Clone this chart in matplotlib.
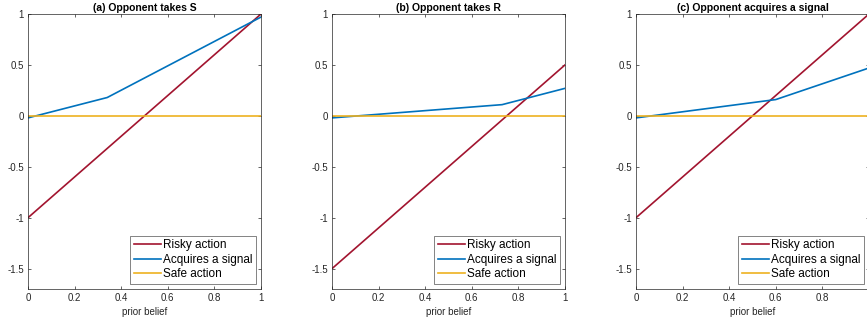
import matplotlib
matplotlib.use("Agg")
import matplotlib.pyplot as plt

belief_a = [0.0, 0.34, 1.0]
signal_a = [-0.02, 0.18, 0.97]
risky_a = [-1.0, 1.0]

belief_b = [0.0, 0.73, 1.0]
signal_b = [-0.02, 0.11, 0.27]
risky_b = [-1.5, 0.5]

belief_c = [0.0, 0.6, 1.0]
signal_c = [-0.02, 0.16, 0.47]
risky_c = [-1.0, 1.0]

ends = [0.0, 1.0]
safe = [0.0, 0.0]

titles = ["(a) Opponent takes S", "(b) Opponent takes R", "(c) Opponent acquires a signal"]
labels = ["Risky action", "Acquires a signal", "Safe action"]
xticks = [0, 0.2, 0.4, 0.6, 0.8, 1]
xticklabels = ["0", "0.2", "0.4", "0.6", "0.8", "1"]
yticks = [-1.5, -1, -0.5, 0, 0.5, 1]
yticklabels = ["-1.5", "-1", "-0.5", "0", "0.5", "1"]

RED = "#A2142F"
BLUE = "#0072BD"
YEL = "#EDB120"
AX = "#262626"

plt.rcParams['font.family'] = ['Liberation Sans', 'DejaVu Sans']

fig = plt.figure(figsize=(8.67, 3.22), dpi=100)
W, H = 867, 322
lefts = [28, 332, 636]
data = [(belief_a, signal_a, risky_a), (belief_b, signal_b, risky_b), (belief_c, signal_c, risky_c)]
for i, (bx, sy, ry) in enumerate(data):
    ax = fig.add_axes([lefts[i] / W, 1 - 289 / H, 233 / W, 275 / H])
    ax.plot(ends, ry, color=RED, lw=1.2, label=labels[0])
    ax.plot(bx, sy, color=BLUE, lw=1.2, label=labels[1])
    ax.plot(ends, safe, color=YEL, lw=1.2, label=labels[2])
    ax.set_xlim(0, 1)
    ax.set_ylim(-1.7, 1)
    ax.set_xticks(xticks)
    ax.set_xticklabels(xticklabels)
    ax.set_yticks(yticks)
    ax.set_yticklabels(yticklabels)
    ax.tick_params(direction='in', length=2.5, width=0.5, labelsize=7, colors=AX,
                   top=True, right=True, pad=3)
    for s in ax.spines.values():
        s.set_linewidth(0.5)
        s.set_color(AX)
    ax.set_xlabel("prior belief", fontsize=7, color=AX, labelpad=3)
    ax.set_title(titles[i], fontsize=7.5, fontweight='bold', color='black', pad=2)
    leg = ax.legend(loc='lower right', fontsize=8.5, frameon=True, fancybox=False,
                    borderaxespad=0.45, handlelength=2.3, handletextpad=0.15,
                    labelspacing=0.2, borderpad=0.3)
    leg.get_frame().set_edgecolor(AX)
    leg.get_frame().set_linewidth(0.5)

fig.savefig("out.png", dpi=100)
